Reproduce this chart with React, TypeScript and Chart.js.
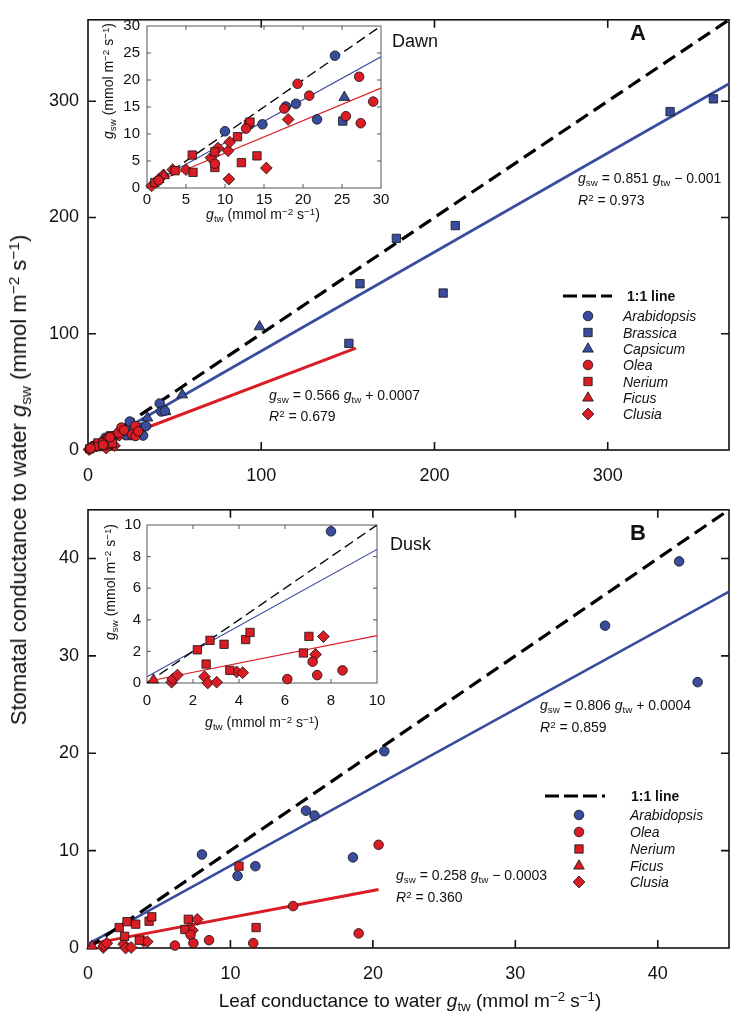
import React, { useEffect, useRef } from 'react';
import { Chart, registerables } from 'chart.js';

Chart.register(...registerables);

// ---------------- DATA: Dawn (panel A) [g_tw, g_sw] ----------------
const dawnArabidopsis = [[10.0, 10.5], [14.8, 11.8], [17.8, 15.1], [19.1, 15.6], [21.8, 12.7], [24.1, 24.5], [30.8, 19.3], [31.8, 12.4], [33.5, 20.5], [41.4, 40.0], [42.3, 33.1], [44.3, 33.7]];
const dawnBrassica = [[25.1, 12.4], [150.6, 91.7], [157, 143], [178, 182], [205, 135], [212, 193], [336, 291], [361, 302]];
const dawnCapsicum = [[25.3, 16.8], [34.3, 27.6], [44.8, 33.0], [54.4, 47.5], [99, 106]];
const dawnOlea = [[1.5, 1.4], [8.7, 4.5], [12.7, 11.0], [17.6, 14.7], [19.3, 19.3], [20.8, 17.1], [25.5, 13.3], [27.2, 20.6], [27.4, 12.0], [29.0, 16.0]];
const dawnNerium = [[1.0, 1.0], [3.6, 3.2], [5.8, 6.1], [5.9, 2.9], [8.7, 3.8], [8.7, 6.7], [11.6, 9.5], [12.1, 4.7], [13.0, 11.8], [13.2, 12.2], [14.1, 5.95]];
const dawnFicus = [[1.5, 1.6], [2.2, 2.3]];
const dawnClusia = [[0.6, 0.4], [1.2, 1.2], [2.1, 2.4], [3.3, 3.4], [5.0, 3.4], [8.2, 5.6], [9.1, 7.4], [10.4, 6.9], [10.6, 8.5], [10.5, 1.65], [15.3, 3.7], [18.1, 12.7]];

const dawnOneToOne = [[0, 0], [370, 370]];
const dawnFitAll = [[0, 0], [370, 315]];
const dawnFitRed = [[0, 0], [154.6, 87.6]];
const dawnInsetOneToOne = [[0, 0], [30, 30]];
const dawnInsetFitAll = [[0, 0.4], [30, 24.3]];
const dawnInsetFitRed = [[0, 0.4], [30, 18.5]];

const dawnTicks = [0, 100, 200, 300];
const dawnInsetTicks = [0, 5, 10, 15, 20, 25, 30];

// ---------------- DATA: Dusk (panel B) [g_tw, g_sw] ----------------
const duskArabidopsis = [[8.0, 9.6], [10.5, 7.4], [11.75, 8.4], [15.3, 14.1], [15.9, 13.6], [18.6, 9.3], [20.8, 20.2], [36.3, 33.1], [41.5, 39.7], [42.8, 27.3]];
const duskOlea = [[6.1, 0.25], [7.2, 1.35], [7.4, 0.5], [8.5, 0.8], [11.6, 0.5], [14.4, 4.3], [19.0, 1.5], [20.4, 10.6]];
const duskNerium = [[2.19, 2.1], [2.57, 1.2], [2.74, 2.7], [3.35, 2.45], [3.6, 0.8], [4.29, 2.75], [4.48, 3.2], [6.8, 1.9], [7.04, 2.95], [10.6, 8.4], [11.8, 2.1]];
const duskFicus = [[0.28, 0.2]];
const duskClusia = [[1.07, 0.05], [1.12, 0.25], [1.32, 0.5], [2.5, 0.4], [2.64, 0.0], [3.03, 0.05], [3.9, 0.7], [4.16, 0.65], [7.33, 1.81], [7.67, 2.94]];

const duskOneToOne = [[0, 0], [45, 45]];
const duskFitAll = [[0, 0.4], [45, 36.6]];
const duskFitRed = [[0.3, 0.45], [20.4, 6.0]];
const duskInsetOneToOne = [[0, 0], [10, 10]];
const duskInsetFitAll = [[0, 0.4], [10, 8.45]];
const duskInsetFitRed = [[0, 0.1], [10, 3.0]];

const duskTicks = [0, 10, 20, 30, 40];
const duskInsetTicks = [0, 2, 4, 6, 8, 10];

// ---------------- STYLE ----------------
const BLUE = 'rgb(58,76,158)';
const RED = 'rgb(218,28,36)';
const FONT = '"Liberation Sans", Arial, Helvetica, sans-serif';
const RADIUS: Record<string, number> = { circle: 4.8, rect: 5.9, triangle: 6.2, rectRot: 5.9 };

const toXY = (pts: number[][]) => pts.map(([x, y]) => ({ x, y }));

const markerSet = (label: string, pts: number[][], style: string, color: string) => ({
  label,
  data: toXY(pts),
  showLine: false,
  pointStyle: style,
  pointRadius: RADIUS[style],
  pointHoverRadius: RADIUS[style],
  pointBackgroundColor: color,
  pointBorderColor: '#111',
  pointBorderWidth: 0.8,
  backgroundColor: color,
  borderColor: '#111',
  order: color === RED ? 1 : 2,
});

const lineSet = (pts: number[][], color: string, width: number, dash: number[] = []) => ({
  data: toXY(pts),
  showLine: true,
  borderColor: color,
  borderWidth: width,
  borderDash: dash,
  borderCapStyle: 'butt',
  pointRadius: 0,
  pointHoverRadius: 0,
  fill: false,
  tension: 0,
  order: 3,
});

function drawMarker(ctx: CanvasRenderingContext2D, style: string, x: number, y: number, color: string) {
  const r = RADIUS[style];
  ctx.save();
  ctx.fillStyle = color;
  ctx.strokeStyle = '#111';
  ctx.lineWidth = 0.8;
  ctx.setLineDash([]);
  ctx.beginPath();
  if (style === 'circle') ctx.arc(x, y, r, 0, Math.PI * 2);
  else if (style === 'rect') {
    const s = Math.SQRT1_2 * r;
    ctx.rect(x - s, y - s, 2 * s, 2 * s);
  } else if (style === 'triangle') {
    let a = 0;
    ctx.moveTo(x + Math.sin(a) * r, y - Math.cos(a) * r);
    a += (2 * Math.PI) / 3;
    ctx.lineTo(x + Math.sin(a) * r, y - Math.cos(a) * r);
    a += (2 * Math.PI) / 3;
    ctx.lineTo(x + Math.sin(a) * r, y - Math.cos(a) * r);
    ctx.closePath();
  } else {
    ctx.moveTo(x - r, y);
    ctx.lineTo(x, y - r);
    ctx.lineTo(x + r, y);
    ctx.lineTo(x, y + r);
    ctx.closePath();
  }
  ctx.fill();
  ctx.stroke();
  ctx.restore();
}

type Box = { left: number; top: number; width: number; height: number };
type Area = { left: number; top: number; right: number; bottom: number };
type LegendSpec = { dash: { x1: number; x2: number; y: number }; x: number; items: { style: string; color: string; y: number }[] };

type PanelSpec = {
  box: Box;
  area: Area;
  xMax: number;
  yMax: number;
  xTicks: number[];
  yTicks: number[];
  tickFont: number;
  xPad: number;
  yPad: number;
  frameColor: string;
  frameWidth: number;
  tickLen: number;
  datasets: any[];
  clip: any;
  legend?: LegendSpec;
};

function buildConfig(spec: PanelSpec): any {
  const { box, area } = spec;
  const padTop = area.top - box.top;
  const padRight = box.left + box.width - area.right;
  const yWidth = area.left - box.left;
  const xHeight = box.top + box.height - area.bottom;

  const framePlugin = {
    id: 'frame',
    beforeDatasetsDraw(chart: any) {
      const { ctx, chartArea } = chart;
      const { left, top, right, bottom } = chartArea;
      const xs = chart.scales.x;
      const ys = chart.scales.y;
      ctx.save();
      ctx.strokeStyle = spec.frameColor;
      ctx.lineWidth = spec.frameWidth;
      ctx.setLineDash([]);
      ctx.strokeRect(left, top, right - left, bottom - top);
      ctx.beginPath();
      for (const v of spec.xTicks) {
        const p = xs.getPixelForValue(v);
        if (p <= left + 1 || p >= right - 1) continue;
        ctx.moveTo(p, bottom);
        ctx.lineTo(p, bottom - spec.tickLen);
        ctx.moveTo(p, top);
        ctx.lineTo(p, top + spec.tickLen);
      }
      for (const v of spec.yTicks) {
        const p = ys.getPixelForValue(v);
        if (p <= top + 1 || p >= bottom - 1) continue;
        ctx.moveTo(left, p);
        ctx.lineTo(left + spec.tickLen, p);
        ctx.moveTo(right, p);
        ctx.lineTo(right - spec.tickLen, p);
      }
      ctx.stroke();
      ctx.restore();
    },
    afterDraw(chart: any) {
      const lg = spec.legend;
      if (!lg) return;
      const ctx = chart.ctx;
      const ox = box.left;
      const oy = box.top;
      ctx.save();
      ctx.strokeStyle = '#000';
      ctx.lineWidth = 3.2;
      ctx.setLineDash([14, 5]);
      ctx.beginPath();
      ctx.moveTo(lg.dash.x1 - ox, lg.dash.y - oy);
      ctx.lineTo(lg.dash.x2 - ox, lg.dash.y - oy);
      ctx.stroke();
      ctx.restore();
      for (const it of lg.items) drawMarker(ctx, it.style, lg.x - ox, it.y - oy, it.color);
    },
  };

  return {
    type: 'scatter',
    data: { datasets: spec.datasets.map((d) => ({ ...d, clip: spec.clip })) },
    options: {
      animation: false,
      responsive: false,
      maintainAspectRatio: false,
      devicePixelRatio: 1,
      events: [],
      layout: { padding: { left: 0, top: padTop, right: padRight, bottom: 0 } },
      plugins: { legend: { display: false }, tooltip: { enabled: false } },
      scales: {
        x: {
          type: 'linear',
          min: 0,
          max: spec.xMax,
          grid: { display: false, drawTicks: false },
          border: { display: false },
          ticks: { font: { family: FONT, size: spec.tickFont }, color: '#111', padding: spec.xPad, maxRotation: 0, autoSkip: false },
          afterBuildTicks: (s: any) => {
            s.ticks = spec.xTicks.map((v) => ({ value: v }));
          },
          afterFit: (s: any) => {
            s.height = xHeight;
          },
        },
        y: {
          type: 'linear',
          min: 0,
          max: spec.yMax,
          grid: { display: false, drawTicks: false },
          border: { display: false },
          ticks: { font: { family: FONT, size: spec.tickFont }, color: '#111', padding: spec.yPad, autoSkip: false },
          afterBuildTicks: (s: any) => {
            s.ticks = spec.yTicks.map((v) => ({ value: v }));
          },
          afterFit: (s: any) => {
            s.width = yWidth;
          },
        },
      },
    },
    plugins: [framePlugin],
  };
}

function Panel({ spec }: { spec: PanelSpec }) {
  const ref = useRef<HTMLCanvasElement>(null);
  useEffect(() => {
    const chart = new Chart(ref.current as HTMLCanvasElement, buildConfig(spec));
    return () => chart.destroy();
  }, []);
  const { box } = spec;
  return (
    <canvas
      ref={ref}
      width={box.width}
      height={box.height}
      style={{ position: 'absolute', left: box.left, top: box.top, width: box.width, height: box.height }}
    />
  );
}

// ---------------- datasets ----------------
const dawnMarkers = () => [
  markerSet('Arabidopsis', dawnArabidopsis, 'circle', BLUE),
  markerSet('Brassica', dawnBrassica, 'rect', BLUE),
  markerSet('Capsicum', dawnCapsicum, 'triangle', BLUE),
  markerSet('Olea', dawnOlea, 'circle', RED),
  markerSet('Nerium', dawnNerium, 'rect', RED),
  markerSet('Ficus', dawnFicus, 'triangle', RED),
  markerSet('Clusia', dawnClusia, 'rectRot', RED),
];
const duskMarkers = () => [
  markerSet('Arabidopsis', duskArabidopsis, 'circle', BLUE),
  markerSet('Olea', duskOlea, 'circle', RED),
  markerSet('Nerium', duskNerium, 'rect', RED),
  markerSet('Ficus', duskFicus, 'triangle', RED),
  markerSet('Clusia', duskClusia, 'rectRot', RED),
];

const panelA: PanelSpec = {
  box: { left: 0, top: 0, width: 736, height: 490 },
  area: { left: 88, top: 5, right: 731, bottom: 450 },
  xMax: 370,
  yMax: 370,
  xTicks: dawnTicks,
  yTicks: dawnTicks,
  tickFont: 18,
  xPad: 15,
  yPad: 9,
  frameColor: '#111',
  frameWidth: 1.6,
  tickLen: 8,
  clip: false,
  datasets: [
    lineSet(dawnOneToOne, '#000', 3.2, [14, 7]),
    lineSet(dawnFitAll, BLUE, 2.6),
    lineSet(dawnFitRed, RED, 3),
    ...dawnMarkers(),
  ],
  legend: {
    dash: { x1: 563, x2: 612, y: 296 },
    x: 588,
    items: [
      { style: 'circle', color: BLUE, y: 316 },
      { style: 'rect', color: BLUE, y: 332.5 },
      { style: 'triangle', color: BLUE, y: 349 },
      { style: 'circle', color: RED, y: 365 },
      { style: 'rect', color: RED, y: 381.5 },
      { style: 'triangle', color: RED, y: 398 },
      { style: 'rectRot', color: RED, y: 414 },
    ],
  },
};

const insetA: PanelSpec = {
  box: { left: 95, top: 10, width: 305, height: 230 },
  area: { left: 147, top: 25, right: 381, bottom: 188 },
  xMax: 30,
  yMax: 30,
  xTicks: dawnInsetTicks,
  yTicks: dawnInsetTicks,
  tickFont: 15,
  xPad: 3,
  yPad: 7,
  frameColor: '#555',
  frameWidth: 1,
  tickLen: 4,
  clip: { left: 7, top: 0, right: 0, bottom: 7 },
  datasets: [
    lineSet(dawnInsetOneToOne, '#000', 1.3, [10, 5]),
    lineSet(dawnInsetFitAll, BLUE, 1.1),
    lineSet(dawnInsetFitRed, RED, 1.1),
    ...dawnMarkers(),
  ],
};

const panelB: PanelSpec = {
  box: { left: 0, top: 490, width: 736, height: 531 },
  area: { left: 88, top: 501, right: 731, bottom: 948 },
  xMax: 45,
  yMax: 45,
  xTicks: duskTicks,
  yTicks: duskTicks,
  tickFont: 18,
  xPad: 15,
  yPad: 9,
  frameColor: '#111',
  frameWidth: 1.6,
  tickLen: 8,
  clip: false,
  datasets: [
    lineSet(duskOneToOne, '#000', 3.2, [14, 7]),
    lineSet(duskFitAll, BLUE, 2.6),
    lineSet(duskFitRed, RED, 3),
    ...duskMarkers(),
  ],
  legend: {
    dash: { x1: 545, x2: 605, y: 796 },
    x: 579,
    items: [
      { style: 'circle', color: BLUE, y: 815 },
      { style: 'circle', color: RED, y: 832 },
      { style: 'rect', color: RED, y: 849 },
      { style: 'triangle', color: RED, y: 866 },
      { style: 'rectRot', color: RED, y: 882 },
    ],
  },
};

const insetB: PanelSpec = {
  box: { left: 95, top: 510, width: 305, height: 230 },
  area: { left: 147, top: 523, right: 377, bottom: 683 },
  xMax: 10,
  yMax: 10,
  xTicks: duskInsetTicks,
  yTicks: duskInsetTicks,
  tickFont: 15,
  xPad: 9,
  yPad: 6,
  frameColor: '#555',
  frameWidth: 1,
  tickLen: 4,
  clip: { left: 7, top: 0, right: 0, bottom: 7 },
  datasets: [
    lineSet(duskInsetOneToOne, '#000', 1.3, [10, 5]),
    lineSet(duskInsetFitAll, BLUE, 1.1),
    lineSet(duskInsetFitRed, RED, 1.1),
    ...duskMarkers(),
  ],
};

// ---------------- text helpers ----------------
const Sub = ({ t }: { t: string }) => (
  <span style={{ fontSize: '0.7em', position: 'relative', top: '0.3em', fontStyle: 'normal' }}>{t}</span>
);
const Sup = ({ t }: { t: string }) => (
  <span style={{ fontSize: '0.7em', position: 'relative', top: '-0.45em', fontStyle: 'normal' }}>{t}</span>
);
const Units = () => (
  <>
    (mmol m<Sup t="−2" /> s<Sup t="−1" />)
  </>
);

type TxtProps = { x: number; y: number; size: number; children: any; center?: boolean; rotate?: boolean; bold?: boolean; italic?: boolean };
function Txt({ x, y, size, children, center, rotate, bold, italic }: TxtProps) {
  const tx = center || rotate ? '-50%' : '0';
  return (
    <div
      style={{
        position: 'absolute',
        left: x,
        top: y,
        fontSize: size,
        lineHeight: 1,
        whiteSpace: 'nowrap',
        fontFamily: FONT,
        fontWeight: bold ? 'bold' : 'normal',
        fontStyle: italic ? 'italic' : 'normal',
        color: '#111',
        transform: `translate(${tx}, -50%)${rotate ? ' rotate(-90deg)' : ''}`,
      }}
    >
      {children}
    </div>
  );
}

const G = ({ s }: { s: string }) => (
  <>
    <i>g</i>
    <Sub t={s} />
  </>
);

const legendANames = ['Arabidopsis', 'Brassica', 'Capsicum', 'Olea', 'Nerium', 'Ficus', 'Clusia'];
const legendBNames = ['Arabidopsis', 'Olea', 'Nerium', 'Ficus', 'Clusia'];

export default function App() {
  return (
    <div style={{ position: 'absolute', left: 0, top: 0, width: 736, height: 1021, background: '#fff', overflow: 'hidden' }}>
      <Panel spec={panelA} />
      <Panel spec={panelB} />
      <Panel spec={insetA} />
      <Panel spec={insetB} />

      {/* axis titles */}
      <Txt x={19} y={480} size={22} rotate>
        Stomatal conductance to water <G s="sw" /> <Units />
      </Txt>
      <Txt x={410} y={1000} size={19} center>
        Leaf conductance to water <G s="tw" /> <Units />
      </Txt>

      {/* panel labels */}
      <Txt x={638} y={33} size={22} center bold>A</Txt>
      <Txt x={638} y={533} size={22} center bold>B</Txt>
      <Txt x={392} y={41} size={18}>Dawn</Txt>
      <Txt x={390} y={544} size={18}>Dusk</Txt>

      {/* inset titles */}
      <Txt x={263} y={214} size={14} center>
        <G s="tw" /> <Units />
      </Txt>
      <Txt x={108} y={81} size={14} rotate>
        <G s="sw" /> <Units />
      </Txt>
      <Txt x={262} y={722} size={14} center>
        <G s="tw" /> <Units />
      </Txt>
      <Txt x={110} y={582} size={14} rotate>
        <G s="sw" /> <Units />
      </Txt>

      {/* equations */}
      <Txt x={578} y={178} size={14}>
        <G s="sw" /> = 0.851 <G s="tw" /> − 0.001
      </Txt>
      <Txt x={578} y={200} size={14}>
        <i>R</i>
        <Sup t="2" /> = 0.973
      </Txt>
      <Txt x={269} y={395} size={14}>
        <G s="sw" /> = 0.566 <G s="tw" /> + 0.0007
      </Txt>
      <Txt x={269} y={416} size={14}>
        <i>R</i>
        <Sup t="2" /> = 0.679
      </Txt>
      <Txt x={540} y={705} size={14}>
        <G s="sw" /> = 0.806 <G s="tw" /> + 0.0004
      </Txt>
      <Txt x={540} y={727} size={14}>
        <i>R</i>
        <Sup t="2" /> = 0.859
      </Txt>
      <Txt x={396} y={875} size={14}>
        <G s="sw" /> = 0.258 <G s="tw" /> − 0.0003
      </Txt>
      <Txt x={396} y={897} size={14}>
        <i>R</i>
        <Sup t="2" /> = 0.360
      </Txt>

      {/* legends */}
      <Txt x={627} y={296} size={14} bold>1:1 line</Txt>
      {legendANames.map((n, i) => (
        <Txt key={'a' + n} x={623} y={panelA.legend!.items[i].y} size={14} italic>
          {n}
        </Txt>
      ))}
      <Txt x={631} y={796} size={14} bold>1:1 line</Txt>
      {legendBNames.map((n, i) => (
        <Txt key={'b' + n} x={630} y={panelB.legend!.items[i].y} size={14} italic>
          {n}
        </Txt>
      ))}
    </div>
  );
}
